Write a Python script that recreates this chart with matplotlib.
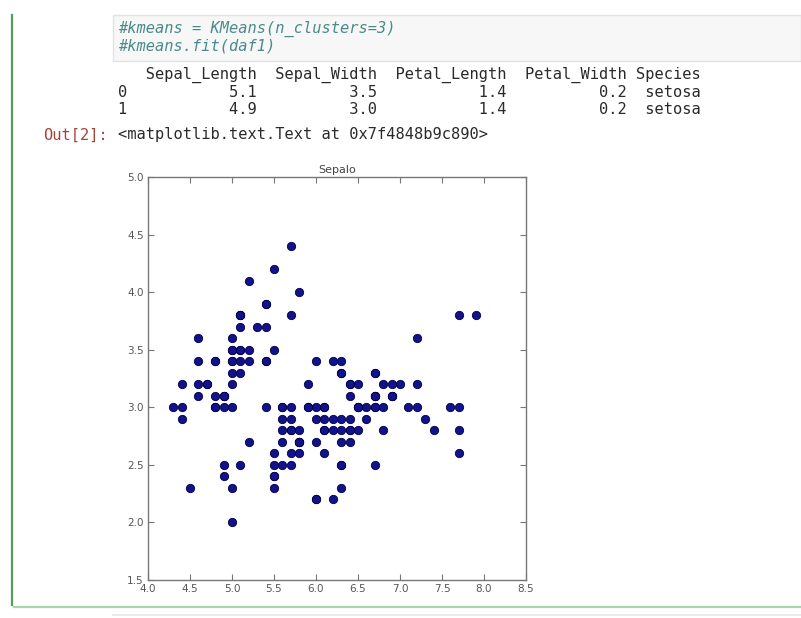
import matplotlib
matplotlib.use("Agg")
import matplotlib.pyplot as plt
from matplotlib.patches import Rectangle
from matplotlib.lines import Line2D

# iris sepal measurements (UCI version), 150 rows
sepal_length = [
    5.1, 4.9, 4.7, 4.6, 5.0, 5.4, 4.6, 5.0, 4.4, 4.9, 5.4, 4.8, 4.8, 4.3, 5.8, 5.7, 5.4,
    5.1, 5.7, 5.1, 5.4, 5.1, 4.6, 5.1, 4.8, 5.0, 5.0, 5.2, 5.2, 4.7, 4.8, 5.4, 5.2, 5.5,
    4.9, 5.0, 5.5, 4.9, 4.4, 5.1, 5.0, 4.5, 4.4, 5.0, 5.1, 4.8, 5.1, 4.6, 5.3, 5.0,
    7.0, 6.4, 6.9, 5.5, 6.5, 5.7, 6.3, 4.9, 6.6, 5.2, 5.0, 5.9, 6.0, 6.1, 5.6, 6.7, 5.6,
    5.8, 6.2, 5.6, 5.9, 6.1, 6.3, 6.1, 6.4, 6.6, 6.8, 6.7, 6.0, 5.7, 5.5, 5.5, 5.8, 6.0,
    5.4, 6.0, 6.7, 6.3, 5.6, 5.5, 5.5, 6.1, 5.8, 5.0, 5.6, 5.7, 5.7, 6.2, 5.1, 5.7,
    6.3, 5.8, 7.1, 6.3, 6.5, 7.6, 4.9, 7.3, 6.7, 7.2, 6.5, 6.4, 6.8, 5.7, 5.8, 6.4, 6.5,
    7.7, 7.7, 6.0, 6.9, 5.6, 7.7, 6.3, 6.7, 7.2, 6.2, 6.1, 6.4, 7.2, 7.4, 7.9, 6.4, 6.3,
    6.1, 7.7, 6.3, 6.4, 6.0, 6.9, 6.7, 6.9, 5.8, 6.8, 6.7, 6.7, 6.3, 6.5, 6.2, 5.9,
]
sepal_width = [
    3.5, 3.0, 3.2, 3.1, 3.6, 3.9, 3.4, 3.4, 2.9, 3.1, 3.7, 3.4, 3.0, 3.0, 4.0, 4.4, 3.9,
    3.5, 3.8, 3.8, 3.4, 3.7, 3.6, 3.3, 3.4, 3.0, 3.4, 3.5, 3.4, 3.2, 3.1, 3.4, 4.1, 4.2,
    3.1, 3.2, 3.5, 3.1, 3.0, 3.4, 3.5, 2.3, 3.2, 3.5, 3.8, 3.0, 3.8, 3.2, 3.7, 3.3,
    3.2, 3.2, 3.1, 2.3, 2.8, 2.8, 3.3, 2.4, 2.9, 2.7, 2.0, 3.0, 2.2, 2.9, 2.9, 3.1, 3.0,
    2.7, 2.2, 2.5, 3.2, 2.8, 2.5, 2.8, 2.9, 3.0, 2.8, 3.0, 2.9, 2.6, 2.4, 2.4, 2.7, 2.7,
    3.0, 3.4, 3.1, 2.3, 3.0, 2.5, 2.6, 3.0, 2.6, 2.3, 2.7, 3.0, 2.9, 2.9, 2.5, 2.8,
    3.3, 2.7, 3.0, 2.9, 3.0, 3.0, 2.5, 2.9, 2.5, 3.6, 3.2, 2.7, 3.0, 2.5, 2.8, 3.2, 3.0,
    3.8, 2.6, 2.2, 3.2, 2.8, 2.8, 2.7, 3.3, 3.2, 2.8, 3.0, 2.8, 3.0, 2.8, 3.8, 2.8, 2.8,
    2.6, 3.0, 3.4, 3.1, 3.0, 3.1, 3.1, 3.1, 2.7, 3.2, 3.3, 3.0, 2.5, 3.0, 3.4, 3.0,
]

x_ticks = [4.0, 4.5, 5.0, 5.5, 6.0, 6.5, 7.0, 7.5, 8.0, 8.5]
y_ticks = [1.5, 2.0, 2.5, 3.0, 3.5, 4.0, 4.5, 5.0]

code_lines = ["#kmeans = KMeans(n_clusters=3)", "#kmeans.fit(daf1)"]
table_lines = [
    "   Sepal_Length  Sepal_Width  Petal_Length  Petal_Width Species",
    "0           5.1          3.5           1.4          0.2  setosa",
    "1           4.9          3.0           1.4          0.2  setosa",
]
out_prompt = "Out[2]:"
out_text = "<matplotlib.text.Text at 0x7f4848b9c890>"

W, H = 801, 618
fig = plt.figure(figsize=(W / 100, H / 100), dpi=100)
fig.patch.set_facecolor("white")


def fx(px):
    return px / W


def fy(py):
    return 1 - py / H


# notebook cell frame
fig.add_artist(Rectangle((fx(113), fy(61)), fx(W - 113), 46 / H, transform=fig.transFigure,
                         facecolor="#f7f7f7", edgecolor="#e2e2e2", lw=1))
fig.add_artist(Line2D([fx(12), fx(12)], [fy(15), fy(605)], transform=fig.transFigure,
                      color="#5a9a5a", lw=1.6))
fig.add_artist(Line2D([fx(14), fx(W)], [fy(607), fy(607)], transform=fig.transFigure,
                      color="#a9d5a9", lw=1.6))
fig.add_artist(Line2D([fx(113), fx(W)], [fy(615), fy(615)], transform=fig.transFigure,
                      color="#e6e6e6", lw=1.2))

mono = "DejaVu Sans Mono"
fs = 11.1
for i, line in enumerate(code_lines):
    fig.text(fx(118), fy(29 + i * 17), line, family=mono, style="italic", size=fs,
             color="#4a8a8a", va="center")
for i, line in enumerate(table_lines):
    fig.text(fx(118), fy(75 + i * 17.5), line, family=mono, size=fs,
             color="#2a2a2a", va="center")
fig.text(fx(43), fy(135), out_prompt, family=mono, size=fs, color="#a8413a", va="center")
fig.text(fx(118), fy(135), out_text, family=mono, size=fs, color="#2a2a2a", va="center")

# scatter of the sepal measurements
ax = fig.add_axes([fx(148), fy(580), fx(378), 403 / H])
ax.scatter(sepal_length, sepal_width, s=36, facecolor="#12128c", edgecolor="#000044",
           linewidths=0.6, zorder=3)
ax.set_xlim(4.0, 8.5)
ax.set_ylim(1.5, 5.0)
ax.set_xticks(x_ticks)
ax.set_yticks(y_ticks)
ax.set_xticklabels([f"{t:.1f}" for t in x_ticks])
ax.set_yticklabels([f"{t:.1f}" for t in y_ticks])
ax.tick_params(direction="in", top=True, right=True, length=4, width=0.8,
               labelsize=7.5, labelcolor="#555555", color="#777777", pad=3)
for sp in ax.spines.values():
    sp.set_color("#777777")
    sp.set_linewidth(1.0)
ax.set_title("Sepalo", fontsize=8, color="#444444", pad=3)

fig.savefig("out.png", dpi=100)
